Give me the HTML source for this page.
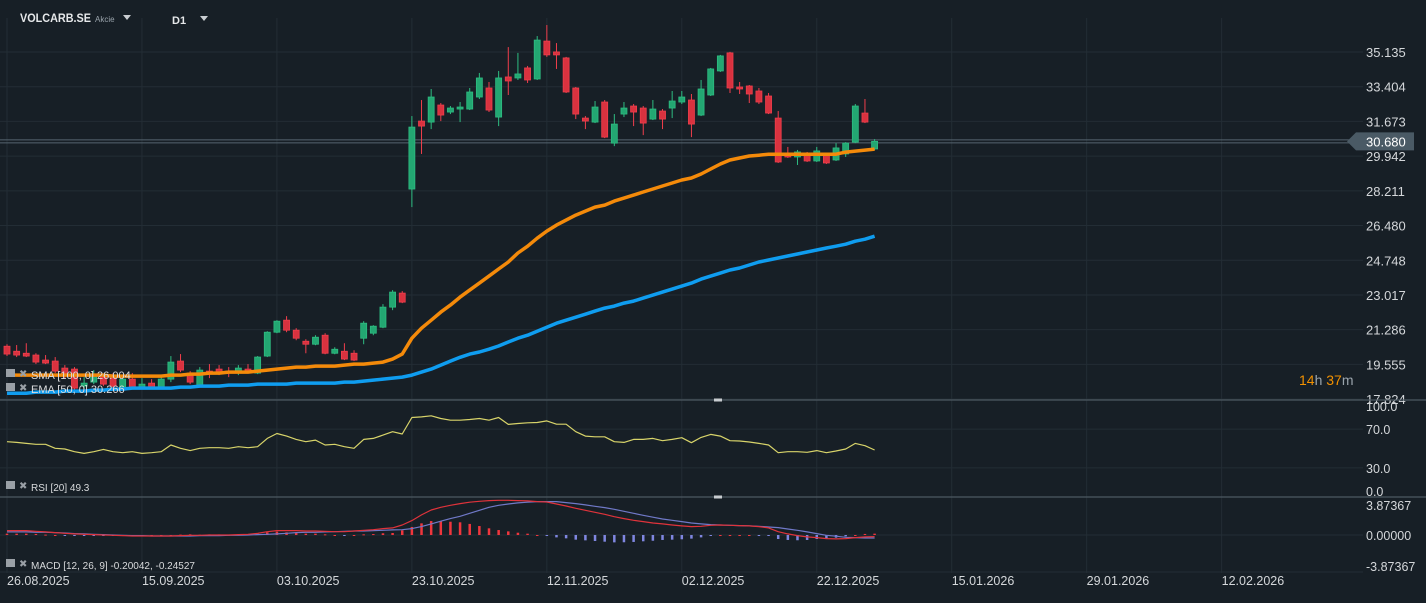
<!DOCTYPE html>
<html><head><meta charset="utf-8">
<style>
html,body{margin:0;padding:0;background:#171f26;}
body{width:1426px;height:598px;overflow:hidden;font-family:"Liberation Sans",sans-serif;}
svg text{font-family:"Liberation Sans",sans-serif;}
</style></head>
<body>
<svg id="chart" width="1426" height="598" xmlns="http://www.w3.org/2000/svg">
<rect x="0" y="0" width="1426" height="598" fill="#171f26"/>
<g id="grid"></g>
<g id="price"></g>
<g id="rsi"></g>
<g id="macd"></g>
<g id="axes"></g>
<g>
<text x="20" y="22" font-size="12" font-weight="bold" fill="#e6e8ea" textLength="71" lengthAdjust="spacingAndGlyphs">VOLCARB.SE</text>
<text x="95" y="22" font-size="8" fill="#9aa4ac">Akcie</text>
<path d="M123 15 L131 15 L127 20 Z" fill="#c9cdd1"/>
<text x="172" y="24" font-size="11" font-weight="bold" fill="#e6e8ea">D1</text>
<path d="M200 16 L208 16 L204 21 Z" fill="#c9cdd1"/>
</g>
<g>
<g><rect x="6" y="369" width="9" height="8" fill="#9aa0a6"/><text x="19" y="377" font-size="10" fill="#9aa0a6">✖</text><text x="31" y="379" font-size="11" fill="#dcdee0">SMA [100, 0] 26.004</text></g>
<g><rect x="6" y="383" width="9" height="8" fill="#9aa0a6"/><text x="19" y="391" font-size="10" fill="#9aa0a6">✖</text><text x="31" y="393" font-size="11" fill="#dcdee0">EMA [50, 0] 30.266</text></g>
<g><rect x="6" y="481" width="9" height="8" fill="#9aa0a6"/><text x="19" y="489" font-size="10" fill="#9aa0a6">✖</text><text x="31" y="491" font-size="10" fill="#d8dadc">RSI [20]  49.3</text></g>
<g><rect x="6" y="559" width="9" height="8" fill="#9aa0a6"/><text x="19" y="567" font-size="10" fill="#9aa0a6">✖</text><text x="31" y="569" font-size="10" fill="#d8dadc">MACD [12, 26, 9] -0.20042, -0.24527</text></g>
</g>
<text x="1299" y="385" font-size="14"><tspan fill="#f29100">14</tspan><tspan fill="#9aa4ac">h </tspan><tspan fill="#f29100">37</tspan><tspan fill="#9aa4ac">m</tspan></text>
</svg>
<script>
const openP=[20.46,20.21,20.11,20.02,19.77,19.72,19.37,19.32,18.47,18.67,18.92,18.87,18.42,18.82,18.42,18.62,18.42,18.82,19.72,19.12,18.52,19.22,19.32,19.22,19.12,19.32,19.12,19.97,21.16,21.76,21.26,20.71,20.56,21.01,20.11,20.21,20.11,20.86,21.11,21.41,22.41,23.11,28.30,31.69,31.64,32.49,32.14,32.29,32.29,32.89,33.34,31.89,33.89,33.84,34.34,33.79,35.68,35.14,34.84,33.34,31.84,31.64,32.64,30.59,32.04,32.44,32.34,31.79,32.19,32.34,32.64,32.74,31.99,32.99,34.19,35.09,33.39,33.44,33.19,32.94,31.84,29.99,29.90,30.10,29.70,29.99,29.75,30.05,30.64,32.09,30.30];
const highP=[20.56,20.52,20.61,20.11,20.02,19.92,19.52,19.42,18.92,19.27,19.02,19.12,19.02,19.12,18.87,18.82,18.92,19.97,20.07,19.22,19.42,19.57,19.52,19.42,19.52,19.57,19.97,21.21,21.76,21.96,21.36,20.81,21.01,21.11,20.41,20.61,20.26,21.71,21.51,22.56,23.26,23.21,31.94,32.74,33.29,32.59,32.44,32.64,33.34,34.09,33.64,34.19,35.38,35.09,34.44,35.93,36.48,35.58,34.89,33.39,31.94,32.69,32.74,32.04,32.64,32.54,32.44,32.74,32.29,33.19,33.19,33.04,33.74,34.34,34.99,35.14,33.64,33.49,33.34,33.09,32.19,30.40,30.25,30.15,30.40,30.04,30.59,30.64,32.54,32.79,30.79];
const lowP=[19.97,19.92,19.92,19.57,19.57,19.12,18.87,18.27,18.32,18.57,18.47,18.37,18.32,18.37,18.37,18.32,18.37,18.67,19.17,18.57,18.47,18.87,19.02,18.92,19.02,19.12,19.07,19.92,21.11,21.16,20.76,20.11,20.51,20.06,20.06,19.77,19.72,20.56,21.01,21.36,22.26,22.61,27.40,30.05,31.29,31.69,32.04,31.64,32.24,32.79,32.14,31.44,32.99,33.74,33.59,33.74,34.89,34.29,33.09,31.79,31.29,31.59,30.84,30.44,31.89,31.44,30.99,31.74,31.29,31.84,32.54,30.89,31.94,32.94,34.14,33.09,33.04,32.59,32.54,32.04,29.60,29.85,29.50,29.65,29.65,29.55,29.70,29.90,30.59,31.59,30.24];
const closeP=[20.07,20.02,19.97,19.67,19.62,19.22,18.97,18.37,18.62,19.02,18.57,18.47,18.82,18.42,18.57,18.42,18.82,19.67,19.27,18.67,19.27,19.07,19.12,19.12,19.37,19.22,19.92,21.16,21.71,21.26,20.86,20.56,20.91,20.11,20.31,19.82,19.77,21.61,21.46,22.41,23.16,22.66,31.39,31.44,32.89,31.99,32.34,32.39,33.14,33.84,32.24,33.84,33.69,34.04,33.74,35.73,34.99,34.99,33.14,32.04,31.69,32.39,30.89,31.54,32.34,32.14,31.59,32.29,31.79,32.69,32.89,31.54,33.29,34.29,34.94,33.34,33.29,33.04,32.64,32.09,29.65,29.90,30.15,29.70,30.20,29.60,30.35,30.59,32.44,31.64,30.68];
const smaOrange=[19.02,19.02,19.02,19.02,19.02,19.02,19.02,19.02,19.02,19.02,19.02,18.97,18.97,18.97,18.97,18.97,18.97,19.02,19.02,19.07,19.07,19.12,19.12,19.17,19.17,19.17,19.22,19.27,19.32,19.37,19.42,19.42,19.47,19.47,19.47,19.52,19.57,19.57,19.62,19.67,19.82,20.07,20.86,21.36,21.76,22.16,22.51,22.91,23.26,23.61,23.96,24.31,24.66,25.11,25.45,25.85,26.20,26.50,26.75,27.00,27.20,27.40,27.50,27.70,27.85,28.00,28.15,28.30,28.45,28.60,28.75,28.85,29.05,29.30,29.55,29.75,29.85,29.95,29.99,30.04,30.04,30.04,30.04,30.04,30.04,30.04,30.04,30.14,30.19,30.24,30.29];
const emaBlue=[18.12,18.12,18.12,18.17,18.17,18.17,18.22,18.22,18.22,18.27,18.27,18.32,18.32,18.37,18.37,18.37,18.37,18.37,18.42,18.42,18.47,18.47,18.47,18.52,18.52,18.52,18.57,18.57,18.57,18.57,18.62,18.62,18.62,18.62,18.62,18.67,18.67,18.72,18.77,18.82,18.87,18.92,19.02,19.17,19.32,19.52,19.72,19.91,20.07,20.17,20.31,20.47,20.67,20.86,21.01,21.21,21.41,21.61,21.76,21.91,22.06,22.21,22.36,22.46,22.61,22.71,22.86,23.01,23.16,23.31,23.46,23.61,23.81,23.96,24.11,24.26,24.36,24.51,24.66,24.76,24.86,24.96,25.06,25.16,25.26,25.36,25.45,25.55,25.70,25.80,25.95];
const rsiVals=[57.0,56.3,55.3,54.3,54.3,50.2,49.5,46.7,45.0,46.7,49.1,46.7,45.7,46.7,45.0,45.7,46.7,53.6,50.2,47.8,50.2,50.8,50.8,50.2,51.9,50.8,51.9,60.4,65.5,62.8,59.4,57.0,58.7,53.6,54.3,51.9,50.2,59.4,60.4,63.8,67.3,64.9,82.0,82.6,83.7,80.9,79.2,79.2,79.9,80.9,79.2,82.0,74.8,75.8,76.5,76.8,78.5,75.1,75.1,67.3,62.8,62.1,62.1,57.0,56.3,59.4,59.4,60.4,58.0,59.4,61.1,56.0,61.4,64.5,62.8,58.0,57.7,56.7,55.3,53.6,45.7,46.7,46.7,46.1,47.8,45.7,47.4,49.5,55.3,52.9,48.5];
const macdVals=[0.46,0.46,0.46,0.39,0.32,0.25,0.18,0.11,0.07,0.04,0.00,-0.03,-0.06,-0.10,-0.10,-0.10,-0.10,-0.10,-0.06,-0.03,-0.03,0.00,0.00,0.00,0.04,0.07,0.18,0.35,0.46,0.46,0.46,0.42,0.42,0.39,0.35,0.35,0.42,0.49,0.56,0.67,0.74,1.05,1.51,2.10,2.62,2.90,3.11,3.29,3.43,3.53,3.60,3.63,3.63,3.60,3.57,3.50,3.46,3.25,3.04,2.80,2.59,2.38,2.17,1.92,1.72,1.54,1.40,1.26,1.16,1.05,0.95,0.88,0.91,1.02,1.05,1.02,0.98,0.95,0.88,0.74,0.35,0.11,-0.06,-0.20,-0.27,-0.38,-0.41,-0.38,-0.27,-0.20,-0.17];
const signalVals=[0.32,0.32,0.32,0.28,0.28,0.25,0.21,0.15,0.11,0.07,0.04,0.00,-0.03,-0.06,-0.06,-0.10,-0.10,-0.10,-0.10,-0.10,-0.06,-0.06,-0.06,-0.03,-0.03,0.00,0.04,0.07,0.11,0.18,0.25,0.28,0.28,0.32,0.35,0.39,0.42,0.42,0.46,0.49,0.53,0.56,0.67,0.88,1.16,1.44,1.72,1.96,2.27,2.59,2.90,3.11,3.25,3.36,3.43,3.50,3.50,3.50,3.39,3.29,3.15,3.01,2.87,2.69,2.48,2.27,2.06,1.86,1.68,1.54,1.40,1.26,1.16,1.09,1.05,1.02,0.98,0.95,0.91,0.84,0.77,0.63,0.49,0.32,0.15,-0.03,-0.13,-0.24,-0.27,-0.31,-0.31];
const priceTicks=[35.135,33.404,31.673,29.942,28.211,26.480,24.748,23.017,21.286,19.555,17.824];
const rsiTicks=[100,70,30,0];
const macdTicks=[3.87367,0,-3.87367];
const dateLabels=["26.08.2025","15.09.2025","03.10.2025","23.10.2025","12.11.2025","02.12.2025","22.12.2025","15.01.2026","29.01.2026","12.02.2026"];
const dateIdx=[0,14,28,42,56,70,84,98,112,126];
const lastPrice=30.680;

const NS="http://www.w3.org/2000/svg";
function mk(parent,tag,attrs){const e=document.createElementNS(NS,tag);for(const k in attrs)e.setAttribute(k,attrs[k]);parent.appendChild(e);return e;}
const xS=i=>7+9.64*i;
const yP=p=>52+(35.135-p)*20.05;
const yR=v=>497-v*0.97;
const yM=v=>535-v*9.55;
const gGrid=document.getElementById('grid'),gPrice=document.getElementById('price'),gRsi=document.getElementById('rsi'),gMacd=document.getElementById('macd'),gAx=document.getElementById('axes');

dateIdx.forEach((d,k)=>{
 const l=mk(gGrid,'line',{x1:xS(d),x2:xS(d),y1:18,y2:573,stroke:'#232d35','stroke-width':1});
 
 
 const t=mk(gAx,'text',{x:xS(d),y:585,'font-size':12.5,fill:'#d4d7da'});
 t.textContent=dateLabels[k];
 
 
});
priceTicks.forEach(p=>{
 const l=mk(gGrid,'line',{x1:0,x2:1363,y1:yP(p),y2:yP(p),stroke:'#232d35','stroke-width':1});
 
 
 const t=mk(gAx,'text',{x:1366,y:yP(p)+5,'font-size':13,fill:'#d4d7da'});
 t.textContent=p.toFixed(3);
 
 
});
rsiTicks.forEach(v=>{
 if(v>0&&v<100){const l=mk(gGrid,'line',{x1:0,x2:1363,y1:yR(v),y2:yR(v),stroke:'#232d35'});
 
 }
 const ty=v===100?yR(v)+11:(v===0?yR(v)-1:yR(v)+5);
 const t=mk(gAx,'text',{x:1366,y:ty,'font-size':12.5,fill:'#d4d7da'});
 t.textContent=v.toFixed(1);
 
 
});
macdTicks.forEach(v=>{
 if(v<3){const l=mk(gGrid,'line',{x1:0,x2:1363,y1:yM(v),y2:yM(v),stroke:'#232d35'});
 
 }
 const ty=v>3?yM(v)+12:(v<-3?yM(v)-1:yM(v)+5);
 const t=mk(gAx,'text',{x:1366,y:ty,'font-size':12.5,fill:'#d4d7da'});
 t.textContent=v.toFixed(5);
 
 
});
[400,497].forEach(y=>{
 const l=mk(gAx,'line',{x1:0,x2:1426,y1:y,y2:y,stroke:'#4d5962','stroke-width':1.2});
 
 
 const h=mk(gAx,'rect',{x:714,y:y-1.5,width:8,height:3,fill:'#c8ccd0'});
 
 
});
const ly=yP(lastPrice);
[ly-1.5,ly+1.5].forEach(y=>{const l=mk(gPrice,'line',{x1:0,x2:1350,y1:y,y2:y,stroke:'#56656f','stroke-width':1});
 
 });
openP.forEach((o,i)=>{
 const c=closeP[i],up=c>=o,col=up?'#23a772':'#d9323f',bc=up?'#2ebd82':'#f03e4c';
 const x=xS(i);
 const w=mk(gPrice,'line',{x1:x,x2:x,y1:yP(highP[i]),y2:yP(lowP[i]),stroke:bc,'stroke-width':1});
 
 
 const t=Math.min(yP(o),yP(c)),h=Math.max(1.5,Math.abs(yP(o)-yP(c)));
 const b=mk(gPrice,'rect',{x:x-3,y:t,width:6,height:h,fill:col,stroke:bc,'stroke-width':0.8});
 
 
});
function line(g,arr,yf,color,wid,name){
 const d=arr.map((v,i)=>(i?'L':'M')+xS(i).toFixed(1)+' '+yf(v).toFixed(1)).join(' ');
 const p=mk(g,'path',{d:d,fill:'none',stroke:color,'stroke-width':wid,'stroke-linejoin':'round'});
 
 
}
line(gPrice,emaBlue,yP,'#0f9df0',3.5,'ema-line');
line(gPrice,smaOrange,yP,'#f48a0a',3.5,'sma-line');
const lb=mk(gAx,'path',{d:`M1347 ${ly} L1356 ${ly-9} L1414 ${ly-9} L1414 ${ly+9} L1356 ${ly+9} Z`,fill:'#4a5a65'});


const lt=mk(gAx,'text',{x:1366,y:ly+5,'font-size':13,fill:'#ffffff'});
lt.textContent=lastPrice.toFixed(3);


line(gRsi,rsiVals,yR,'#d8d46a',1.2,'rsi-line');
macdVals.forEach((m,i)=>{
 const hv=m-signalVals[i];
 const y0=yM(0),y1=yM(hv);
 const r=mk(gMacd,'rect',{x:xS(i)-1.25,y:Math.min(y0,y1),width:2.5,height:Math.max(1,Math.abs(y1-y0)),fill:hv>=0?'#f0363d':'#7f86e0'});
 
 
});
line(gMacd,signalVals,yM,'#7079c8',1.2,'macd-signal-line');
line(gMacd,macdVals,yM,'#e0333b',1.2,'macd-line');
</script>
</body></html>
